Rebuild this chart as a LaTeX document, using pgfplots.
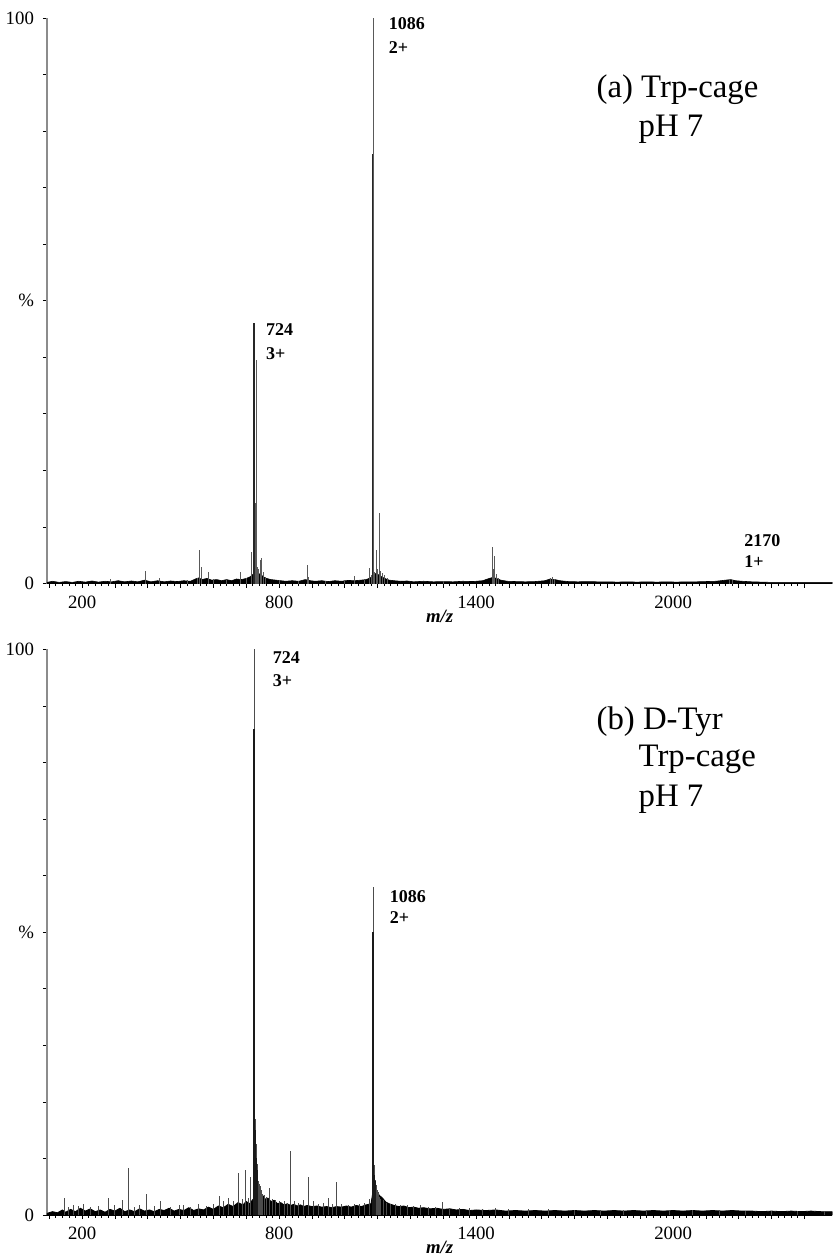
\documentclass[border=0pt]{standalone}
\usepackage{fontspec}
\setmainfont{Liberation Serif}
\usepackage{pgfplots}
\usepackage{pgfplotstable}
\pgfplotsset{compat=1.18}

\pgfplotstableread{
x y
93 0.2
110 0.4
130 0.2
150 0.35
170 0.2
190 0.4
210 0.25
230 0.45
250 0.25
270 0.4
290 0.3
310 0.5
330 0.3
350 0.45
370 0.3
390 0.6
410 0.3
430 0.5
450 0.3
470 0.45
490 0.35
510 0.5
530 0.4
545 0.8
555 1.0
565 0.7
580 0.9
595 0.6
610 0.7
625 0.5
640 0.7
655 0.5
670 0.8
685 0.7
700 0.9
712 1.2
720 1.6
728 2.0
736 1.8
744 1.6
752 1.2
762 0.9
775 0.7
790 0.6
805 0.5
820 0.4
840 0.5
860 0.4
880 0.7
895 0.5
910 0.4
930 0.5
950 0.35
970 0.5
990 0.4
1010 0.55
1030 0.5
1050 0.6
1065 0.7
1078 1.0
1088 1.6
1096 1.8
1104 1.5
1112 1.2
1122 0.9
1135 0.6
1150 0.5
1170 0.4
1190 0.45
1210 0.3
1240 0.4
1270 0.3
1300 0.35
1330 0.3
1360 0.4
1390 0.35
1420 0.5
1440 0.9
1452 1.1
1462 0.9
1475 0.6
1495 0.4
1520 0.35
1550 0.3
1580 0.35
1610 0.5
1625 0.8
1640 0.7
1655 0.5
1680 0.35
1710 0.3
1740 0.35
1770 0.3
1800 0.3
1830 0.25
1860 0.3
1890 0.25
1920 0.3
1950 0.25
1980 0.3
2010 0.25
2040 0.3
2070 0.3
2100 0.35
2130 0.4
2160 0.6
2175 0.7
2190 0.5
2210 0.4
2240 0.3
2270 0.25
2300 0.2
2350 0.2
2400 0.2
2485 0.2
}\envA

\pgfplotstableread{
x y
285 0.8
392 2.3
437 1.0
520 0.6
552 1.0
558 6.0
563 3.0
586 2.1
600 0.8
640 0.7
683 2.0
700 1.0
717 5.5
721 2.0
724 46
726 10
729.5 14.3
731 39.6
734 3.0
738 2.5
744 4.2
747 4.5
752 2.0
760 1.2
800 0.6
860 0.5
887 3.2
890 1.2
940 0.5
1000 0.6
1030 1.4
1060 0.7
1075 2.8
1080 1.5
1086 100
1088 5.1
1092 2.0
1097 6.0
1101 2.5
1106 12.5
1110 2.2
1115 1.8
1120 1.5
1130 1.0
1300 0.5
1449 6.5
1453 2.5
1457 4.8
1462 1.6
1468 1.0
1628 1.0
1633 1.1
1640 0.8
2172 0.8
2180 0.6
}\spikeA

\pgfplotstableread{
x y
723.8 46
1085.5 76
}\darkA

\pgfplotstableread{
x y
93 0.3
110 0.6
125 0.4
140 0.9
150 0.5
165 1.0
180 0.6
195 1.2
210 0.7
225 1.1
240 0.6
255 0.9
270 0.5
285 1.0
300 0.7
315 1.2
330 0.6
345 0.9
360 0.6
375 1.1
390 0.7
405 0.9
420 0.6
435 1.0
450 0.8
465 1.2
480 0.7
495 1.0
510 0.8
525 1.3
540 0.8
555 1.1
570 0.9
585 1.4
600 1.0
615 1.6
630 1.3
645 1.9
660 1.5
675 2.2
690 1.8
700 2.4
710 2.0
718 2.6
724 3.0
730 5.0
736 4.5
742 3.8
750 3.5
758 2.8
766 3.0
775 2.4
785 2.6
795 2.0
805 2.2
815 1.8
825 2.0
835 1.7
845 1.9
855 1.6
865 1.8
875 1.5
885 1.7
900 1.5
915 1.6
930 1.4
945 1.5
960 1.3
975 1.5
990 1.4
1005 1.6
1020 1.4
1035 1.7
1050 1.5
1065 1.8
1080 2.0
1088 5.0
1095 4.5
1105 3.5
1115 3.0
1125 2.3
1135 2.0
1150 1.7
1165 1.5
1180 1.6
1195 1.3
1210 1.4
1225 1.2
1240 1.3
1260 1.1
1280 1.2
1300 1.0
1320 1.1
1340 0.9
1360 1.0
1380 0.8
1400 0.9
1430 0.8
1460 0.9
1490 0.7
1520 0.8
1550 0.7
1580 0.8
1610 0.7
1640 0.8
1670 0.7
1700 0.8
1730 0.7
1760 0.8
1790 0.7
1820 0.8
1850 0.7
1880 0.8
1910 0.7
1940 0.8
1970 0.7
2000 0.8
2030 0.7
2060 0.8
2090 0.7
2120 0.8
2150 0.7
2180 0.8
2210 0.7
2240 0.7
2270 0.6
2300 0.7
2330 0.6
2360 0.7
2390 0.6
2420 0.7
2450 0.6
2485 0.6
}\envB

\pgfplotstableread{
x y
145 3.0
160 1.5
175 1.8
190 1.6
205 1.9
225 1.4
250 1.6
280 3.1
300 1.8
322 2.6
340 8.3
360 1.5
375 1.7
395 3.7
420 1.6
440 2.4
470 1.4
498 1.7
510 1.8
530 1.5
555 1.9
580 1.6
600 2.0
619 3.4
632 2.5
647 3.0
660 2.4
676 7.4
688 2.8
697 8.0
706 3.0
714 6.8
724 100
727 17
729 14
731 12.5
733 9
735 7.7
737 6.0
740 5.5
743 5.2
746 4.5
750 3.8
755 3.5
762 3.2
772 4.7
780 2.8
790 2.6
800 2.5
815 2.4
825 2.2
835 11.3
848 2.5
860 2.2
875 2.6
890 6.8
905 2.4
920 2.0
935 2.1
950 3.0
962 2.0
974 5.8
990 1.9
1010 1.8
1031 2.0
1045 1.9
1060 2.2
1075 2.8
1086 58
1088 9.5
1090 8.8
1092 7.5
1094 6.2
1096 5.4
1099 4.5
1102 4.0
1106 3.2
1110 2.8
1118 2.6
1128 2.2
1140 2.0
1155 1.9
1170 1.8
1190 1.7
1210 1.6
1230 1.7
1255 1.5
1275 1.5
1297 2.3
1320 1.3
1350 1.3
1380 1.2
1420 1.1
1460 1.2
1500 1.0
1560 1.0
1620 1.0
1700 0.9
1780 0.9
1850 0.9
1920 0.9
1990 0.9
2060 0.9
2140 0.9
2220 0.8
2300 0.8
2380 0.8
2460 0.8
}\spikeB

\pgfplotstableread{
x y
723.8 86
1085.8 50
727 15
729 12
731 10
733 8
1088 8
1090 7
1092 6
}\darkB

\pgfplotsset{
  ms/.style={
    scale only axis, width=393pt, height=283pt,
    xmin=93, xmax=2485, ymin=0, ymax=100,
    axis lines=left,
    axis line style={-},
    x axis line style={black, line width=0.6pt},
    y axis line style={black!45, line width=0.7pt},
    tick align=outside,
    xtick={100,200,...,2400},
    xticklabels={,200,,,,,,800,,,,,,1400,,,,,,2000,,,,},
    minor x tick num=4,
    ytick={0,10,...,100},
    yticklabels={0,,,,,\%,,,,,100},
    major tick length=2pt, minor tick length=1.3pt,
    every tick/.style={black, line width=0.4pt},
    /pgf/number format/assume math mode=true,
    tick label style={font=\fontsize{9.4}{11}\selectfont},
    xticklabel style={yshift=-0.5pt},
    yticklabel style={xshift=-1pt},
    xlabel={\textbf{\textit{m/z}}},
    xlabel style={font=\fontsize{9.4}{11}\selectfont, yshift=6pt},
    clip=true,
  },
}
\tikzset{
  lab/.style={anchor=base west, inner sep=0pt, font=\fontsize{9}{10}\selectfont\bfseries},
  big/.style={anchor=base west, inner sep=0pt, font=\fontsize{16.4}{18}\selectfont},
}

\begin{document}
\begin{tikzpicture}
\useasboundingbox (-23.5pt,-338.5pt) rectangle (393pt,292pt);
\begin{axis}[ms, at={(0,0)}, anchor=south west]
  \addplot[fill=black, draw=black, line width=0.3pt, mark=none] table[x=x,y=y] {\envA} \closedcycle;
  \addplot[ycomb, black!65, line width=0.5pt, mark=none] table[x=x,y=y] {\spikeA};
  \addplot[ycomb, black!85, line width=0.6pt, mark=none] table[x=x,y=y] {\darkA};
  \node[lab] at (axis cs:1133,97.9) {1086};
  \node[lab] at (axis cs:1133,93.8) {2+};
  \node[lab] at (axis cs:759,43.8) {724};
  \node[lab] at (axis cs:759,39.6) {3+};
  \node[lab] at (axis cs:2216,6.5) {2170};
  \node[lab] at (axis cs:2216,2.8) {1+};
  \node[big] at (axis cs:1766,86.0) {(a) Trp-cage};
  \node[big] at (axis cs:1894,79.0) {pH 7};
\end{axis}
\begin{axis}[ms, at={(0,-316pt)}, anchor=south west]
  \addplot[fill=black, draw=black, line width=0.4pt, mark=none] table[x=x,y=y] {\envB} \closedcycle;
  \addplot[ycomb, black!70, line width=0.5pt, mark=none] table[x=x,y=y] {\spikeB};
  \addplot[ycomb, black!90, line width=0.6pt, mark=none] table[x=x,y=y] {\darkB};
  \node[lab] at (axis cs:780,97.5) {724};
  \node[lab] at (axis cs:780,93.5) {3+};
  \node[lab] at (axis cs:1136,55.2) {1086};
  \node[lab] at (axis cs:1136,51.5) {2+};
  \node[big] at (axis cs:1766,85.8) {(b) D-Tyr};
  \node[big] at (axis cs:1894,79.3) {Trp-cage};
  \node[big] at (axis cs:1894,72.2) {pH 7};
\end{axis}
\end{tikzpicture}
\end{document}
